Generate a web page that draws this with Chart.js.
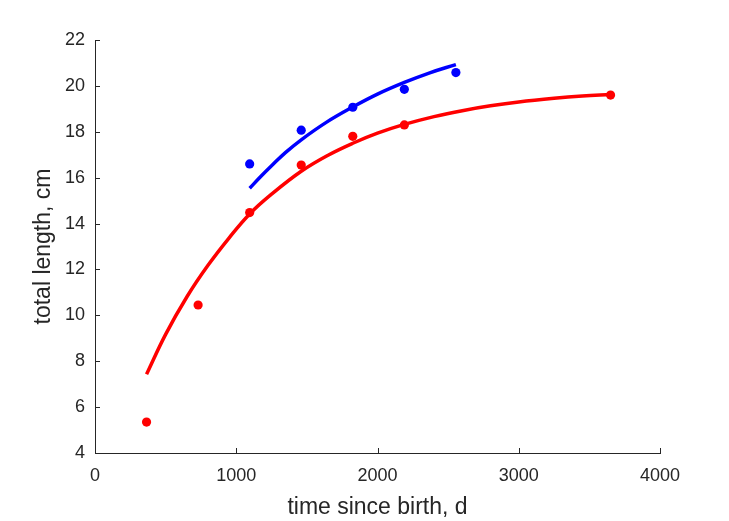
<!DOCTYPE html>
<html>
<head>
<meta charset="utf-8">
<script src="https://cdn.jsdelivr.net/npm/chart.js@4/dist/chart.umd.min.js"></script>
<style>
  html, body { margin: 0; padding: 0; background: #fff; }
  #wrap { width: 729px; height: 521px; position: relative; }
</style>
</head>
<body>
<div id="wrap"><canvas id="myChart"></canvas></div>
<script>
"use strict";

//Measured data, age in days and total length in cm.
var redDays = [365, 730, 1095, 1460, 1825, 2190, 3650];
var redLength = [5.35, 10.45, 14.48, 16.55, 17.8, 18.3, 19.6];
var blueDays = [1095, 1460, 1825, 2190, 2555];
var blueLength = [16.6, 18.07, 19.07, 19.85, 20.58];

//Fitted growth curves.
var redFitDays = [365, 500, 650, 800, 950, 1095, 1250, 1460, 1650, 1825, 2000, 2190, 2400, 2600, 2800, 3000, 3250, 3450, 3650];
var redFitLength = [7.43, 9.17, 10.8, 12.18, 13.38, 14.42, 15.28, 16.28, 16.98, 17.5, 17.94, 18.32, 18.66, 18.92, 19.13, 19.3, 19.46, 19.56, 19.63];
var blueFitDays = [1095, 1170, 1250, 1350, 1460, 1640, 1825, 2000, 2190, 2370, 2555];
var blueFitLength = [15.54, 16.03, 16.52, 17.1, 17.65, 18.42, 19.08, 19.64, 20.15, 20.57, 20.93];

//Axis ticks.
var xTicks = [0, 1000, 2000, 3000, 4000];
var yTicks = [4, 6, 8, 10, 12, 14, 16, 18, 20, 22];

var axisColor = '#262626';
var fontFamily = 'Liberation Sans, Arial, sans-serif';

function toPoints(xs, ys) {
    var pts = [];
    for (var i = 0; i < xs.length; i++) {
        pts.push({ x: xs[i], y: ys[i] });
    }
    return pts;
}

function fitLine(xs, ys, color) {
    return {
        type: 'line',
        data: toPoints(xs, ys),
        borderColor: color,
        borderWidth: 3.5,
        pointRadius: 0,
        fill: false,
        tension: 0.4,
        borderCapStyle: 'butt'
    };
}

function dots(xs, ys, color) {
    return {
        type: 'scatter',
        data: toPoints(xs, ys),
        backgroundColor: color,
        borderWidth: 0,
        pointRadius: 4.6
    };
}

//Matlab style tick marks pointing into the plot area.
var innerTicks = {
    id: 'innerTicks',
    afterDraw: function (chart) {
        var c = chart.ctx;
        var xs = chart.scales.x;
        var ys = chart.scales.y;
        var area = chart.chartArea;
        var len = 5;
        c.save();
        c.strokeStyle = axisColor;
        c.lineWidth = 1;
        c.beginPath();
        xTicks.forEach(function (v) {
            var px = Math.round(xs.getPixelForValue(v)) + 0.5;
            c.moveTo(px, area.bottom);
            c.lineTo(px, area.bottom - len);
        });
        yTicks.forEach(function (v) {
            var py = Math.round(ys.getPixelForValue(v)) + 0.5;
            c.moveTo(area.left, py);
            c.lineTo(area.left + len, py);
        });
        c.stroke();
        c.restore();
    }
};

var ctx = document.getElementById('myChart').getContext('2d');
var myChart = new Chart(ctx, {
    data: {
        datasets: [
            fitLine(redFitDays, redFitLength, '#ff0000'),
            fitLine(blueFitDays, blueFitLength, '#0000ff'),
            dots(redDays, redLength, '#ff0000'),
            dots(blueDays, blueLength, '#0000ff')
        ]
    },
    plugins: [innerTicks],
    options: {
        responsive: true,
        maintainAspectRatio: false,
        animation: false,
        events: [],
        layout: { padding: { left: 0, right: 69, top: 40, bottom: 0 } },
        plugins: {
            legend: { display: false },
            tooltip: { enabled: false }
        },
        scales: {
            x: {
                type: 'linear',
                min: 0,
                max: 4000,
                afterFit: function (scale) { scale.height = 68; },
                afterBuildTicks: function (scale) {
                    scale.ticks = xTicks.map(function (v) { return { value: v }; });
                },
                border: { display: true, color: axisColor, width: 1 },
                grid: { display: false, tickLength: 0 },
                ticks: {
                    color: axisColor,
                    padding: 12,
                    maxRotation: 0,
                    font: { family: fontFamily, size: 18 },
                    callback: function (v) { return String(v); }
                },
                title: {
                    display: true,
                    text: 'time since birth, d',
                    color: axisColor,
                    padding: { top: 0, bottom: 0 },
                    font: { family: fontFamily, size: 23 }
                }
            },
            y: {
                type: 'linear',
                min: 4,
                max: 22,
                afterFit: function (scale) { scale.width = 95; },
                afterBuildTicks: function (scale) {
                    scale.ticks = yTicks.map(function (v) { return { value: v }; });
                },
                border: { display: true, color: axisColor, width: 1 },
                grid: { display: false, tickLength: 0 },
                ticks: {
                    color: axisColor,
                    padding: 10,
                    font: { family: fontFamily, size: 18 },
                    callback: function (v) { return String(v); }
                },
                title: {
                    display: true,
                    text: 'total length, cm',
                    color: axisColor,
                    padding: { top: 30, bottom: 0 },
                    font: { family: fontFamily, size: 23 }
                }
            }
        }
    }
});
</script>
</body>
</html>
